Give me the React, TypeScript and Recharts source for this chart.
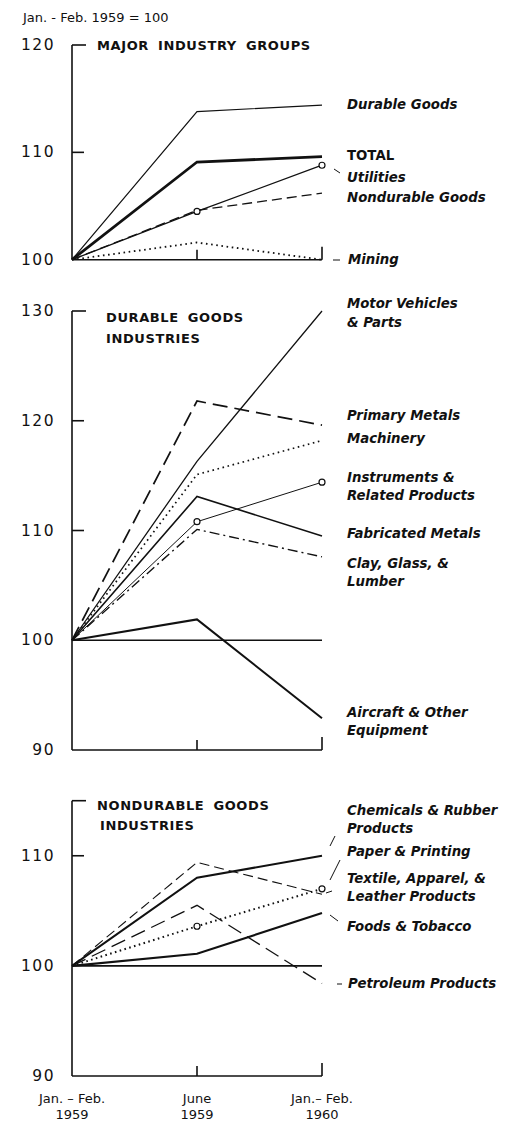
import { LineChart, Line, XAxis, YAxis, ReferenceLine } from 'recharts'

// x categories
const periods = ['Jan.–Feb. 1959', 'June 1959', 'Jan.–Feb. 1960']
const periodLabels = [
  ['Jan. – Feb.', '1959'],
  ['June', '1959'],
  ['Jan.– Feb.', '1960'],
]

// Major industry groups (Jan.-Feb. 1959 = 100)
const durableGoods = [100, 113.8, 114.4]
const totalIndex = [100, 109.1, 109.6]
const utilities = [100, 104.5, 108.8]
const nondurableGoods = [100, 104.6, 106.2]
const mining = [100, 101.6, 100]

// Durable goods industries
const motorVehicles = [100, 116.3, 130]
const primaryMetals = [100, 121.8, 119.6]
const machinery = [100, 115.1, 118.2]
const instruments = [100, 110.8, 114.4]
const fabricatedMetals = [100, 113.1, 109.5]
const clayGlassLumber = [100, 110.1, 107.6]
const aircraft = [100, 101.9, 92.9]

// Nondurable goods industries
const chemicalsRubber = [100, 108.0, 110.0]
const paperPrinting = [100, 103.6, 107.0]
const textileApparel = [100, 109.4, 106.5]
const foodsTobacco = [100, 101.1, 104.8]
const petroleum = [100, 105.5, 98.4]

// y ticks
const majorTicks = [100, 110, 120]
const durableTicks = [90, 100, 110, 120, 130]
const nondurableTicks = [90, 100, 110, 115]

const INK = '#111'
const FONT = '"DejaVu Sans", sans-serif'

type Series = {
  key: string
  values: number[]
  width: number
  dash?: string
  circles?: boolean
}

const buildRows = (series: Series[]) =>
  periods.map((period, i) => {
    const row: Record<string, string | number> = { period }
    series.forEach(s => {
      row[s.key] = s.values[i]
    })
    return row
  })

const makeYTick = (min: number, max: number, hideLabel: number[], noLine: number[]) =>
  (props: any) => {
    const { x, y, payload } = props
    const v = payload.value as number
    return (
      <g>
        {v !== min && !noLine.includes(v) && (
          <line x1={x} x2={x + (v === max ? 14 : 12)} y1={y} y2={y} stroke={INK} strokeWidth={1.6} />
        )}
        {!hideLabel.includes(v) && (
          <text
            x={x - 17}
            y={y}
            textAnchor="end"
            dominantBaseline="central"
            fontFamily={FONT}
            fontSize={15.5}
            letterSpacing={1.5}
            fill={INK}
          >
            {v}
          </text>
        )}
      </g>
    )
  }

const makeXTick = (showLabels: boolean) => (props: any) => {
  const { x, y, index } = props
  return (
    <g>
      {index > 0 && <line x1={x} x2={x} y1={y} y2={y - (index === 2 ? 13 : 10)} stroke={INK} strokeWidth={1.6} />}
      {showLabels && (
        <text x={x} textAnchor="middle" fontFamily={FONT} fontSize={13} fill={INK}>
          <tspan x={x} y={y + 27}>{periodLabels[index][0]}</tspan>
          <tspan x={x} y={y + 43}>{periodLabels[index][1]}</tspan>
        </text>
      )}
    </g>
  )
}

const circleDot = (props: any) => {
  const { cx, cy, index } = props
  if (index === 0) return <g key={`d${index}`} />
  return <circle key={`d${index}`} cx={cx} cy={cy} r={3} fill="#fff" stroke={INK} strokeWidth={1.2} />
}

interface PanelProps {
  top: number
  height: number
  plotTop: number
  plotBottom: number
  domain: [number, number]
  ticks: number[]
  hideLabel?: number[]
  noLine?: number[]
  series: Series[]
  baseline?: boolean
  showPeriods?: boolean
}

function Panel({ top, height, plotTop, plotBottom, domain, ticks, hideLabel = [], noLine = [], series, baseline, showPeriods }: PanelProps) {
  const xAxisHeight = showPeriods ? 45 : 10
  const margin = {
    top: plotTop - top,
    bottom: top + height - plotBottom - xAxisHeight,
    left: 12,
    right: 184,
  }
  return (
    <div style={{ position: 'absolute', left: 0, top, width: 506, height }}>
      <LineChart width={506} height={height} data={buildRows(series)} margin={margin}>
        <XAxis
          dataKey="period"
          height={xAxisHeight}
          interval={0}
          tickLine={false}
          tickSize={0}
          tickMargin={0}
          axisLine={{ stroke: INK, strokeWidth: 1.6 }}
          tick={makeXTick(!!showPeriods)}
        />
        <YAxis
          type="number"
          width={60}
          domain={domain}
          ticks={ticks}
          interval={0}
          tickLine={false}
          tickSize={0}
          tickMargin={0}
          axisLine={{ stroke: INK, strokeWidth: 1.6 }}
          tick={makeYTick(domain[0], domain[1], hideLabel, noLine)}
        />
        {baseline && <ReferenceLine y={100} stroke={INK} strokeWidth={1.6} />}
        {series.map(s => (
          <Line
            key={s.key}
            dataKey={s.key}
            type="linear"
            stroke={INK}
            strokeWidth={s.width}
            strokeDasharray={s.dash}
            dot={s.circles ? circleDot : false}
            activeDot={false}
            isAnimationActive={false}
          />
        ))}
      </LineChart>
    </div>
  )
}

const majorSeries: Series[] = [
  { key: 'durable', values: durableGoods, width: 1.2 },
  { key: 'total', values: totalIndex, width: 2.8 },
  { key: 'utilities', values: utilities, width: 1.3, circles: true },
  { key: 'nondurable', values: nondurableGoods, width: 1.3, dash: '10 5' },
  { key: 'mining', values: mining, width: 1.8, dash: '1.6 3.6' },
]

const durableSeries: Series[] = [
  { key: 'motor', values: motorVehicles, width: 1.3 },
  { key: 'primary', values: primaryMetals, width: 1.7, dash: '15 7' },
  { key: 'machinery', values: machinery, width: 1.7, dash: '1.6 3.6' },
  { key: 'instruments', values: instruments, width: 1.0, circles: true },
  { key: 'fabricated', values: fabricatedMetals, width: 1.6 },
  { key: 'clay', values: clayGlassLumber, width: 1.4, dash: '10 4 2 4' },
  { key: 'aircraft', values: aircraft, width: 2.0 },
]

const nondurableSeries: Series[] = [
  { key: 'chemicals', values: chemicalsRubber, width: 2.0 },
  { key: 'paper', values: paperPrinting, width: 2.0, dash: '1.6 3.4', circles: true },
  { key: 'textile', values: textileApparel, width: 1.1, dash: '10 5' },
  { key: 'foods', values: foodsTobacco, width: 2.2 },
  { key: 'petroleum', values: petroleum, width: 1.3, dash: '15 7' },
]

// right-hand labels: [text, x, y]
const seriesLabels: [string, number, number][] = [
  ['Durable Goods', 347, 104],
  ['Utilities', 347, 177],
  ['Nondurable Goods', 347, 197],
  ['Mining', 348, 259],
  ['Motor Vehicles', 347, 303],
  ['& Parts', 347, 322],
  ['Primary Metals', 347, 415.5],
  ['Machinery', 347, 438.5],
  ['Instruments &', 347, 477],
  ['Related Products', 347, 495],
  ['Fabricated Metals', 347, 533.5],
  ['Clay, Glass, &', 347, 563.5],
  ['Lumber', 347, 581.5],
  ['Aircraft & Other', 347, 712.5],
  ['Equipment', 347, 730.5],
  ['Chemicals & Rubber', 347, 810],
  ['Products', 347, 828.5],
  ['Paper & Printing', 347, 851],
  ['Textile, Apparel, &', 347, 878.5],
  ['Leather Products', 347, 896.5],
  ['Foods & Tobacco', 347, 926],
  ['Petroleum Products', 348, 983.5],
]

const titles: [string, number, number][] = [
  ['MAJOR INDUSTRY GROUPS', 97, 45],
  ['DURABLE GOODS', 106, 317],
  ['INDUSTRIES', 106, 338.5],
  ['NONDURABLE GOODS', 97, 805],
  ['INDUSTRIES', 100, 825.5],
]

const leaders: [number, number, number, number][] = [
  [334, 169, 340, 173],
  [333, 260, 340, 260],
  [330, 846, 335, 836],
  [330, 880, 340, 860],
  [326, 893, 332, 891],
  [330, 915, 338, 921],
  [337, 984, 342, 984],
]

export default function App() {
  return (
    <div style={{ position: 'absolute', left: 0, top: 0, width: 506, height: 1123, background: '#fff', overflow: 'hidden' }}>
      <Panel
        top={0}
        height={280}
        plotTop={45}
        plotBottom={259.7}
        domain={[100, 120]}
        ticks={majorTicks}
        series={majorSeries}
      />
      <Panel
        top={290}
        height={480}
        plotTop={311}
        plotBottom={750}
        domain={[90, 130]}
        ticks={durableTicks}
        noLine={[100]}
        series={durableSeries}
        baseline
      />
      <Panel
        top={780}
        height={343}
        plotTop={800.7}
        plotBottom={1076}
        domain={[90, 115]}
        ticks={nondurableTicks}
        hideLabel={[115]}
        noLine={[100]}
        series={nondurableSeries}
        baseline
        showPeriods
      />
      <svg width={506} height={1123} style={{ position: 'absolute', left: 0, top: 0, pointerEvents: 'none' }}>
        <text x={23} y={17} dominantBaseline="central" fontFamily={FONT} fontSize={13} fill={INK}>
          Jan. - Feb. 1959 = 100
        </text>
        {titles.map(([t, x, y], i) => (
          <text key={i} x={x} y={y} dominantBaseline="central" fontFamily={FONT} fontSize={13} fontWeight="bold" letterSpacing={0.6} wordSpacing={4} fill={INK}>
            {t}
          </text>
        ))}
        <text x={347} y={155} dominantBaseline="central" fontFamily={FONT} fontSize={13.3} fontWeight="bold" fill={INK}>
          TOTAL
        </text>
        {seriesLabels.map(([t, x, y], i) => (
          <text key={i} x={x} y={y} dominantBaseline="central" fontFamily={FONT} fontSize={13.3} fontWeight="bold" fontStyle="italic" fill={INK}>
            {t}
          </text>
        ))}
        {leaders.map(([x1, y1, x2, y2], i) => (
          <line key={i} x1={x1} y1={y1} x2={x2} y2={y2} stroke={INK} strokeWidth={1} />
        ))}
      </svg>
    </div>
  )
}
